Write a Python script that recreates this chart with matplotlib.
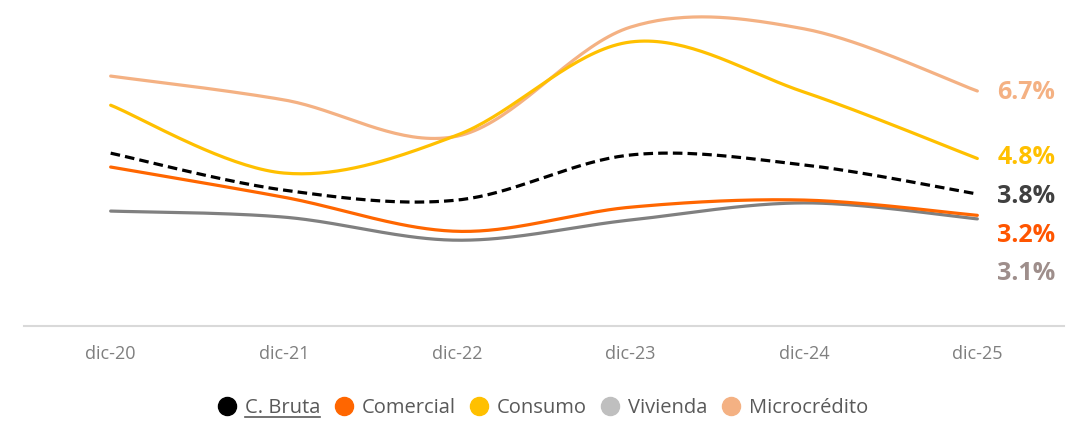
import matplotlib.pyplot as plt
from matplotlib.lines import Line2D
import numpy as np

plt.rcParams['font.family'] = ['Open Sans', 'DejaVu Sans']

periodos = ["dic-20", "dic-21", "dic-22", "dic-23", "dic-24", "dic-25"]
bruta = [4.95, 3.91, 3.63, 4.90, 4.62, 3.8]
comercial = [4.56, 3.71, 2.75, 3.43, 3.63, 3.2]
consumo = [6.30, 4.39, 5.46, 8.08, 6.67, 4.8]
vivienda = [3.32, 3.15, 2.50, 3.07, 3.55, 3.1]
micro = [7.12, 6.45, 5.43, 8.50, 8.45, 6.7]


def suave(x, y, n=40):
    # curva tipo Excel (Catmull-Rom en forma de Bezier)
    x = np.asarray(x, float)
    y = np.asarray(y, float)
    px = np.concatenate([[x[0]], x, [x[-1]]])
    py = np.concatenate([[y[0]], y, [y[-1]]])
    xs, ys = [], []
    t = np.linspace(0, 1, n)
    for i in range(1, len(px) - 2):
        p0 = np.array([px[i], py[i]])
        p3 = np.array([px[i + 1], py[i + 1]])
        p1 = p0 + (np.array([px[i + 1], py[i + 1]]) - np.array([px[i - 1], py[i - 1]])) / 6
        p2 = p3 - (np.array([px[i + 2], py[i + 2]]) - np.array([px[i], py[i]])) / 6
        b = ((1 - t) ** 3)[:, None] * p0 + (3 * (1 - t) ** 2 * t)[:, None] * p1 \
            + (3 * (1 - t) * t ** 2)[:, None] * p2 + (t ** 3)[:, None] * p3
        xs.extend(b[:, 0])
        ys.extend(b[:, 1])
    return xs, ys


fig = plt.figure(figsize=(10.86, 4.21), dpi=100)
ax = fig.add_axes([24 / 1086, 1 - 326 / 421, 1040 / 1086, 316 / 421])

x = np.arange(len(periodos))
# datos, color linea, estilo, color etiqueta, etiqueta, posicion etiqueta
series = [
    (micro, "#F4B183", "-", "#F4B183", "6.7%", 6.65),
    (consumo, "#FFC000", "-", "#FFC000", "4.8%", 4.82),
    (vivienda, "#808080", "-", "#9E8E8B", "3.1%", 1.55),
    (comercial, "#FF6600", "-", "#FF5500", "3.2%", 2.62),
    (bruta, "#000000", (0, (3, 1.6)), "#404040", "3.8%", 3.72),
]
for vals, col, ls, tcol, et, yp in series:
    xs, ys = suave(x, vals)
    ax.plot(xs, ys, color=col, lw=2.3, ls=ls, solid_capstyle='round')
    ax.text(5.115, yp, et, color=tcol, fontsize=18, fontweight='bold',
            va='center', ha='left')

ax.set_xlim(-0.5, 5.5)
ax.set_ylim(0.085, 8.98)
for s in ["top", "right", "left"]:
    ax.spines[s].set_visible(False)
ax.spines["bottom"].set_color("#D9D9D9")
ax.spines["bottom"].set_linewidth(1.5)
ax.set_xticks(x)
ax.set_xticklabels(periodos, color="#7F7F7F", fontsize=13)
ax.tick_params(axis='x', length=0, pad=14)
ax.set_yticks([])

orden = ["C. Bruta", "Comercial", "Consumo", "Vivienda", "Microcrédito"]
mcolors = {"C. Bruta": "#000000", "Comercial": "#FF6600", "Consumo": "#FFC000",
           "Vivienda": "#BFBFBF", "Microcrédito": "#F4B183"}
handles = [Line2D([], [], ls='none', marker='o', markersize=13,
                  markerfacecolor=mcolors[n], markeredgecolor=mcolors[n]) for n in orden]
leg = fig.legend(handles, orden, loc='center', bbox_to_anchor=(0.5, 1 - 408 / 421),
                 ncol=5, frameon=False, fontsize=14.5, handlelength=0.9,
                 handletextpad=0.45, columnspacing=0.7, labelcolor="#595959")

fig.canvas.draw()
bb = leg.get_texts()[0].get_window_extent().transformed(fig.transFigure.inverted())
fig.add_artist(Line2D([bb.x0, bb.x1], [bb.y0 + 0.003, bb.y0 + 0.003],
                      color="#595959", lw=1.2, transform=fig.transFigure))

fig.savefig("out.png", dpi=100)
